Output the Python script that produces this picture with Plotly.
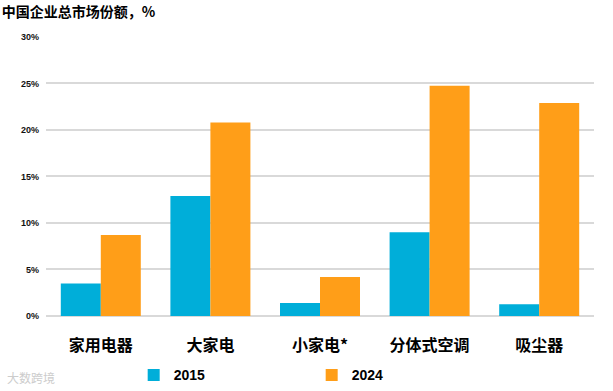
import plotly.graph_objects as go

categories = ["家用电器", "大家电", "小家电*", "分体式空调", "吸尘器"]
share_2015 = [3.5, 12.9, 1.4, 9.0, 1.25]
share_2024 = [8.7, 20.8, 4.2, 24.75, 22.9]
tick_vals = [0, 5, 10, 15, 20, 25, 30]
tick_text = ["0%", "5%", "10%", "15%", "20%", "25%", "30%"]

CJK = "Noto Sans CJK SC"

fig = go.Figure()
fig.add_trace(go.Bar(name="2015", x=categories, y=share_2015, marker_color="#00AED9",
                     marker_line_width=0))
fig.add_trace(go.Bar(name="2024", x=categories, y=share_2024, marker_color="#FF9E18",
                     marker_line_width=0))

fig.update_layout(
    width=613, height=391,
    margin=dict(l=46, r=19, t=36, b=75, autoexpand=False),
    paper_bgcolor="white", plot_bgcolor="white",
    barmode="group", bargap=0.27, bargroupgap=0,
    title=dict(text="中国企业总市场份额，%", x=0.003, xanchor="left", y=0.97, yanchor="middle",
               font=dict(family=CJK, size=14, color="black", weight="bold")),
    legend=dict(orientation="h", x=0.16, xanchor="left", yref="container", y=0.04,
                yanchor="middle", entrywidth=133, entrywidthmode="pixels",
                font=dict(family="Liberation Sans", size=14, color="black", weight="bold")),
    showlegend=True,
)
fig.update_xaxes(tickfont=dict(family=CJK, size=16, color="black", weight="bold"),
                 showline=False, ticks="", showgrid=False, automargin=False,
                 ticklabelstandoff=18)
fig.update_yaxes(range=[0, 30.1], tickvals=tick_vals, ticktext=tick_text,
                 tickfont=dict(family="Liberation Sans", size=9, color="#111", weight="bold"),
                 showgrid=True, gridcolor="#D9D9D9", gridwidth=1.5, zeroline=True,
                 zerolinecolor="#D9D9D9", zerolinewidth=1.5, ticklabelstandoff=6,
                 automargin=False)

fig.add_annotation(text="大数跨境", xref="paper", yref="paper", x=-0.075, y=-0.22,
                   xanchor="left", yanchor="middle", showarrow=False,
                   font=dict(family=CJK, size=12, color="#CCCCCC"))

fig.write_html("out.html", config={"displayModeBar": False},
               post_script="document.body.style.margin='0';document.body.style.overflow='hidden';")
